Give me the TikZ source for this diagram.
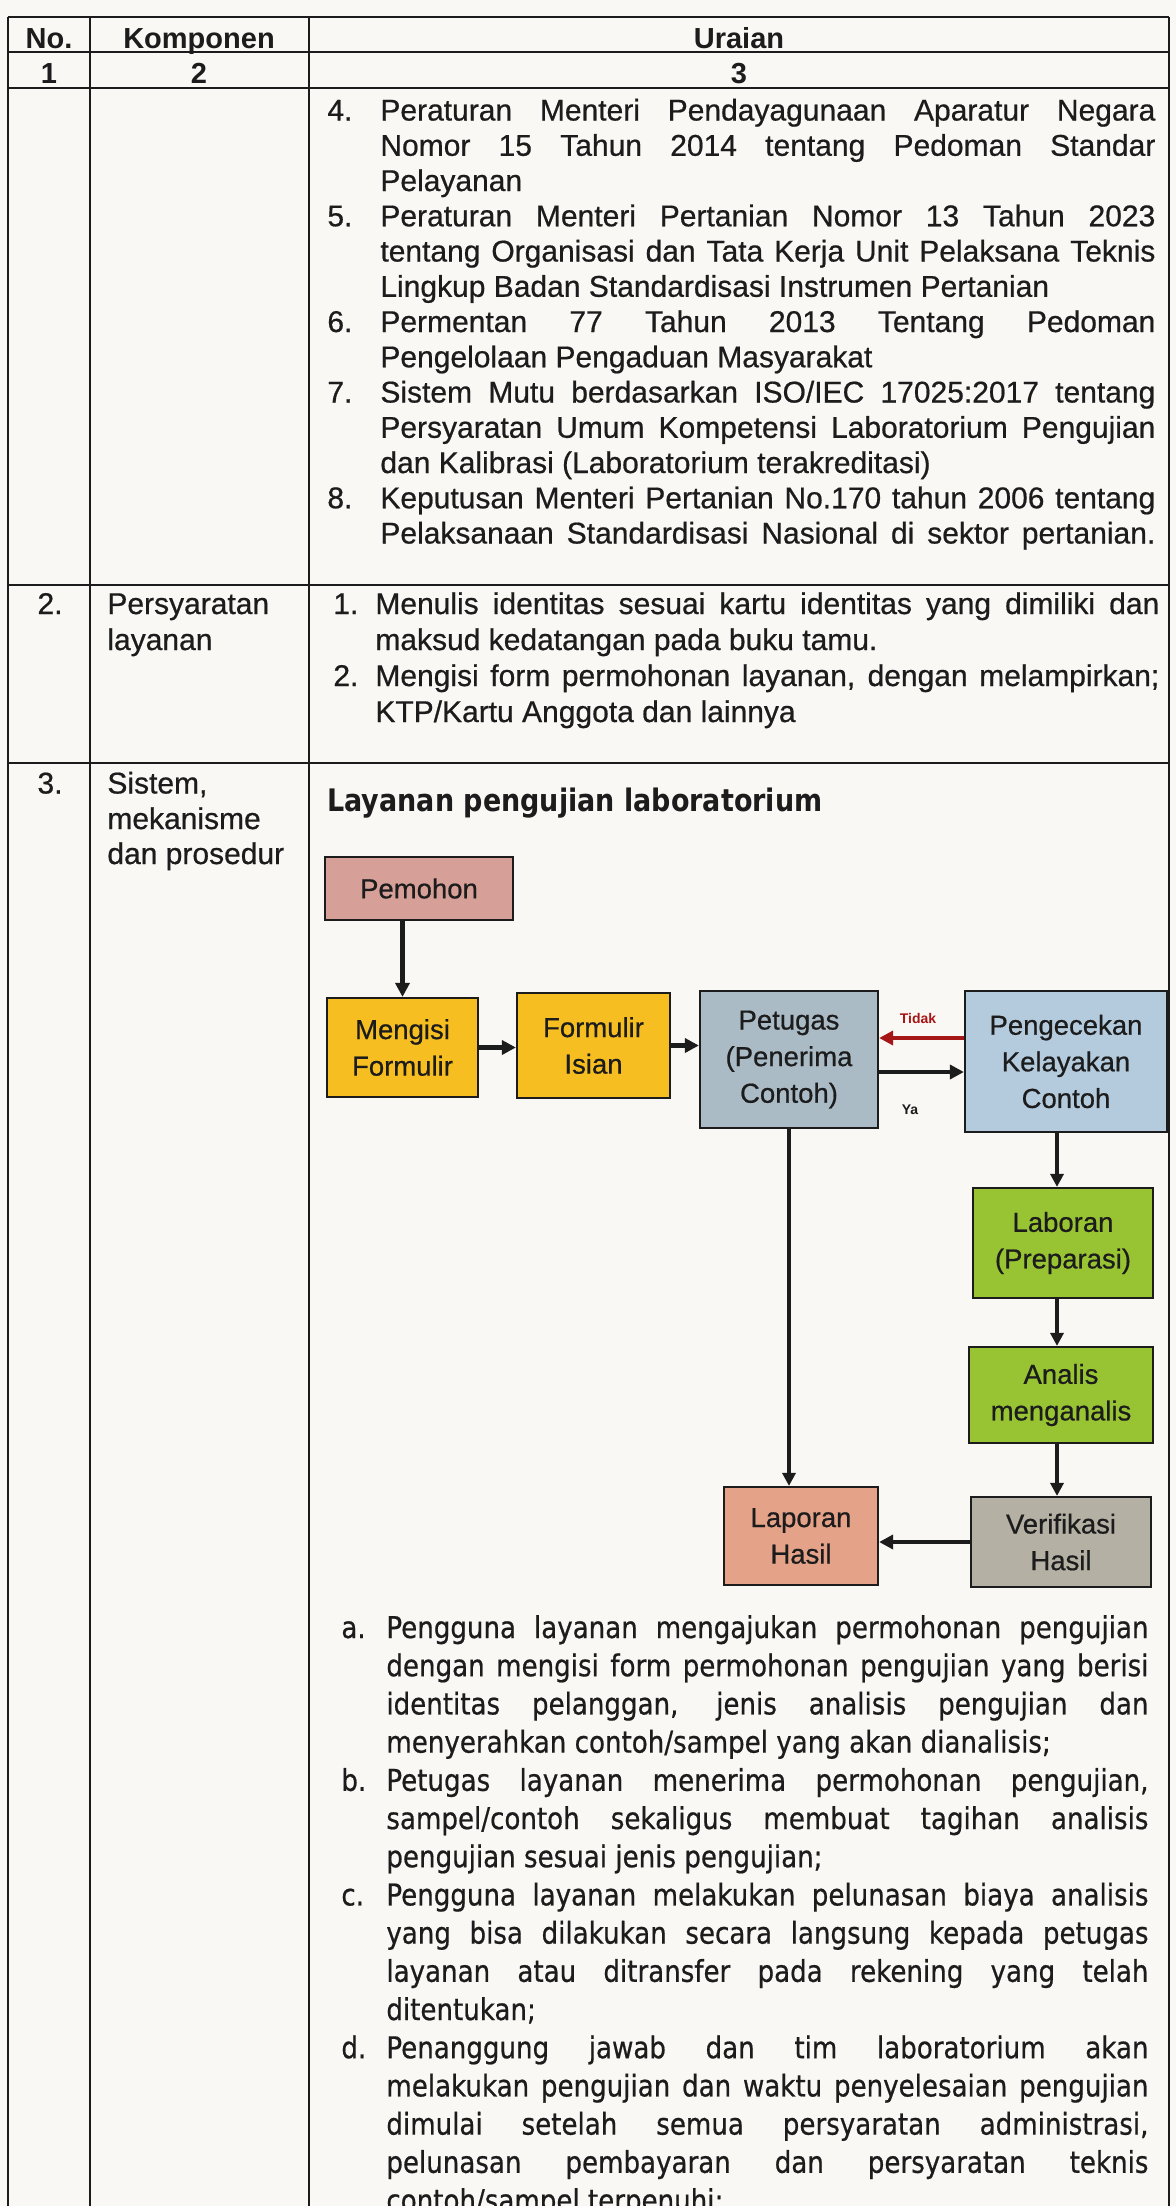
\documentclass[tikz,border=0pt]{standalone}
\usepackage{fontspec}
\setmainfont{Liberation Sans}[UprightFeatures={FakeBold=0.6}]
\newfontfamily\tah{DejaVu Sans}[FakeStretch=0.87,UprightFeatures={FakeBold=0.6}]
\usetikzlibrary{arrows.meta}
\definecolor{paper}{RGB}{250,248,245}
\definecolor{ink}{RGB}{28,28,28}
\definecolor{cpem}{RGB}{214,160,152}
\definecolor{cyel}{RGB}{246,190,32}
\definecolor{cpet}{RGB}{170,187,198}
\definecolor{cpeng}{RGB}{180,203,222}
\definecolor{cgrn}{RGB}{152,196,52}
\definecolor{clap}{RGB}{228,162,136}
\definecolor{cver}{RGB}{180,176,164}
\definecolor{cred}{RGB}{165,22,22}
\newcommand\TJ[5]{\node[anchor=base west,inner sep=0pt] (#1) at (#2,#3) {\makebox[#4][s]{#5}};}
\newcommand\TL[4]{\node[anchor=base west,inner sep=0pt] (#1) at (#2,#3) {#4};}
\begin{document}
\begin{tikzpicture}[x=0.5pt,y=-0.5pt,
  tline/.style={ink,line width=1.3pt},
  flowbox/.style={draw=ink,line width=1.1pt,align=center,inner sep=0pt,font=\fontsize{13.75}{18.3}\selectfont,text=ink},
  arr/.style={ink,line width=1.8pt,-{Triangle[length=6.5pt,width=6.5pt]}},
  tarr/.style={ink,line width=2.4pt,-{Triangle[length=7pt,width=7pt]}},
  maintxt/.style={font=\fontsize{15}{17.6}\selectfont,text=ink},
  tahtxt/.style={font=\tah\fontsize{15}{18}\selectfont,text=ink},
  hdr/.style={font=\bfseries\fontsize{14.5}{17}\selectfont,text=ink,anchor=base,inner sep=0pt},
  lbl/.style={font=\bfseries\fontsize{7}{8}\selectfont,inner sep=0pt}
]
\fill[paper] (0,0) rectangle (1176,2206);
\useasboundingbox (0,0) rectangle (1176,2206);
\clip (0,0) rectangle (1176,2206);

% table grid
\draw[tline] (8,17) -- (1169,17);
\draw[tline] (8,52) -- (1169,52);
\draw[tline] (8,88) -- (1169,88);
\draw[tline] (8,585) -- (1169,585);
\draw[tline] (8,763) -- (1169,763);
\foreach \x in {8,90,309,1169} \draw[tline] (\x,17) -- (\x,2215);

% header
\node[hdr] (hno) at (49,48) {No.};
\node[hdr] (hkomp) at (199,48) {Komponen};
\node[hdr] (hur) at (739,48) {Uraian};
\node[hdr] (n1) at (49,83) {1};
\node[hdr] (n2) at (199,83) {2};
\node[hdr] (n3) at (739,83) {3};

\begin{scope}[nodes={maintxt}]
% row 1
\TL{i4}{327}{120.5}{4.}
\TJ{r4a}{380}{120.5}{387.5pt}{Peraturan Menteri Pendayagunaan Aparatur Negara}
\TJ{r4b}{380}{155.75}{387.5pt}{Nomor 15 Tahun 2014 tentang Pedoman Standar}
\TL{r4c}{380}{191}{Pelayanan}
\TL{i5}{327}{226.25}{5.}
\TJ{r5a}{380}{226.25}{387.5pt}{Peraturan Menteri Pertanian Nomor 13 Tahun 2023}
\TJ{r5b}{380}{261.5}{387.5pt}{tentang Organisasi dan Tata Kerja Unit Pelaksana Teknis}
\TL{r5c}{380}{296.75}{Lingkup Badan Standardisasi Instrumen Pertanian}
\TL{i6}{327}{332}{6.}
\TJ{r6a}{380}{332}{387.5pt}{Permentan 77 Tahun 2013 Tentang Pedoman}
\TL{r6b}{380}{367.25}{Pengelolaan Pengaduan Masyarakat}
\TL{i7}{327}{402.5}{7.}
\TJ{r7a}{380}{402.5}{387.5pt}{Sistem Mutu berdasarkan ISO/IEC 17025:2017 tentang}
\TJ{r7b}{380}{437.75}{387.5pt}{Persyaratan Umum Kompetensi Laboratorium Pengujian}
\TL{r7c}{380}{473}{dan Kalibrasi (Laboratorium terakreditasi)}
\TL{i8}{327}{508.25}{8.}
\TJ{r8a}{380}{508.25}{387.5pt}{Keputusan Menteri Pertanian No.170 tahun 2006 tentang}
\TJ{r8b}{380}{543.5}{387.5pt}{Pelaksanaan Standardisasi Nasional di sektor pertanian.}
% row 2
\node[anchor=base,inner sep=0pt] (no2) at (50,614) {2.};
\TL{k2a}{107}{614}{Persyaratan}
\TL{k2b}{107}{650}{layanan}
\TL{j1}{333}{614}{1.}
\TJ{s1a}{375}{614}{392pt}{Menulis identitas sesuai kartu identitas yang dimiliki dan}
\TL{s1b}{375}{650}{maksud kedatangan pada buku tamu.}
\TL{j2}{333}{686}{2.}
\TJ{s2a}{375}{686}{392pt}{Mengisi form permohonan layanan, dengan melampirkan;}
\TL{s2b}{375}{722}{KTP/Kartu Anggota dan lainnya}
% row 3
\node[anchor=base,inner sep=0pt] (no3) at (50,793.5) {3.};
\TL{k3a}{107}{793.5}{Sistem,}
\TL{k3b}{107}{829}{mekanisme}
\TL{k3c}{107}{864}{dan prosedur}
\end{scope}

\node[anchor=base west,inner sep=0pt,font=\tah\bfseries\fontsize{15.5}{18}\selectfont,text=ink] (head) at (327,811) {Layanan pengujian laboratorium};

% flowchart
\node[flowbox,fill=cpem,minimum width=94pt,minimum height=31.5pt] (pem) at (419,888.5) {Pemohon};
\node[flowbox,fill=cyel,minimum width=75.5pt,minimum height=49.5pt] (meng) at (402.5,1047.5) {Mengisi\\Formulir};
\node[flowbox,fill=cyel,minimum width=76.5pt,minimum height=52.5pt] (form) at (593.5,1045.5) {Formulir\\Isian};
\node[flowbox,fill=cpet,minimum width=89pt,minimum height=68.5pt] (pet) at (789,1059.5) {Petugas\\(Penerima\\Contoh)};
\node[flowbox,fill=cpeng,minimum width=101pt,minimum height=70.5pt] (peng) at (1066,1061.5) {Pengecekan\\Kelayakan\\Contoh};
\node[flowbox,fill=cgrn,minimum width=90pt,minimum height=55pt] (lab) at (1063,1243) {Laboran\\(Preparasi)};
\node[flowbox,fill=cgrn,minimum width=92pt,minimum height=48pt] (ana) at (1061,1395) {Analis\\menganalis};
\node[flowbox,fill=cver,minimum width=90pt,minimum height=45pt] (ver) at (1061,1542) {Verifikasi\\Hasil};
\node[flowbox,fill=clap,minimum width=77pt,minimum height=49pt] (lap) at (801,1536) {Laporan\\Hasil};

\draw[tarr] (pem.south -| meng.north) -- (meng.north);
\draw[tarr] (meng.east) -- (meng.east -| form.west);
\draw[tarr] (form.east) -- (form.east -| pet.west);
\draw[tarr,cred] (peng.west |- 0,1038) -- (pet.east |- 0,1038);
\node[lbl,text=cred] (tidak) at (918,1018) {Tidak};
\draw[tarr] (pet.east |- 0,1072) -- (peng.west |- 0,1072);
\node[lbl,text=ink] (ya) at (910,1110) {Ya};
\draw[arr] (pet.south) -- (pet.south |- lap.north);
\draw[arr] (peng.south -| 1057,0) -- (lab.north -| 1057,0);
\draw[arr] (lab.south -| 1057,0) -- (ana.north -| 1057,0);
\draw[arr] (ana.south -| 1057,0) -- (ver.north -| 1057,0);
\draw[tarr] (ver.west) -- (ver.west -| lap.east);

% bottom list
\begin{scope}[nodes={tahtxt}]
\TL{la}{341}{1638}{a.}
\TJ{a1}{386}{1638}{381pt}{Pengguna layanan mengajukan permohonan pengujian}
\TJ{a2}{386}{1676.2}{381pt}{dengan mengisi form permohonan pengujian yang berisi}
\TJ{a3}{386}{1714.4}{381pt}{identitas pelanggan, jenis analisis pengujian dan}
\TL{a4}{386}{1752.6}{menyerahkan contoh/sampel yang akan dianalisis;}
\TL{lb}{341}{1790.8}{b.}
\TJ{b1}{386}{1790.8}{381pt}{Petugas layanan menerima permohonan pengujian,}
\TJ{b2}{386}{1829}{381pt}{sampel/contoh sekaligus membuat tagihan analisis}
\TL{b3}{386}{1867.2}{pengujian sesuai jenis pengujian;}
\TL{lc}{341}{1905.4}{c.}
\TJ{c1}{386}{1905.4}{381pt}{Pengguna layanan melakukan pelunasan biaya analisis}
\TJ{c2}{386}{1943.6}{381pt}{yang bisa dilakukan secara langsung kepada petugas}
\TJ{c3}{386}{1981.8}{381pt}{layanan atau ditransfer pada rekening yang telah}
\TL{c4}{386}{2020}{ditentukan;}
\TL{ld}{341}{2058.2}{d.}
\TJ{d1}{386}{2058.2}{381pt}{Penanggung jawab dan tim laboratorium akan}
\TJ{d2}{386}{2096.4}{381pt}{melakukan pengujian dan waktu penyelesaian pengujian}
\TJ{d3}{386}{2134.6}{381pt}{dimulai setelah semua persyaratan administrasi,}
\TJ{d4}{386}{2172.8}{381pt}{pelunasan pembayaran dan persyaratan teknis}
\TL{d5}{386}{2211}{contoh/sampel terpenuhi;}
\end{scope}
\end{tikzpicture}
\end{document}
